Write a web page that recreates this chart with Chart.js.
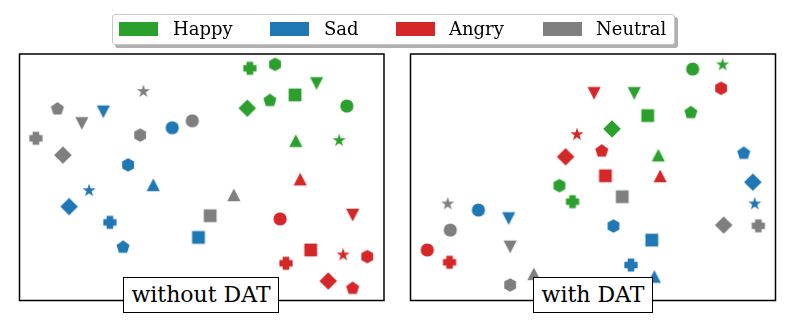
<!DOCTYPE html>
<html>
<head>
<meta charset="utf-8">
<script src="https://cdn.jsdelivr.net/npm/chart.js@4.4.1/dist/chart.umd.min.js"></script>
<style>
html,body{margin:0;padding:0;background:#fff;width:789px;height:321px;overflow:hidden;font-family:"DejaVu Serif",serif;}
#wrap{position:relative;width:789px;height:321px;}
.cv{position:absolute;top:0;}
#legend{position:absolute;left:112px;top:14px;width:561px;height:29px;border:1px solid #c8c8c8;border-radius:3px;background:#fff;box-shadow:3px 3px 0 #b0b0b0;}
.patch{position:absolute;top:21.5px;width:39px;height:14px;}
.ltext{position:absolute;top:18px;height:21px;line-height:21px;font-size:18px;color:#000;white-space:nowrap;}
.plabel{position:absolute;top:277px;height:34px;border:1.5px solid #000;background:#fff;font-size:22px;line-height:34px;text-align:center;color:#000;white-space:nowrap;}
</style>
</head>
<body>
<div id="wrap">
  <canvas id="cLeft" class="cv" style="left:0px" width="397" height="321"></canvas>
  <canvas id="cRight" class="cv" style="left:397px" width="392" height="321"></canvas>
  <div id="legend"></div>
  <div id="legendItems"></div>
  <div class="plabel" id="labL" style="left:123px;width:154px;"></div>
  <div class="plabel" id="labR" style="left:533px;width:118px;"></div>
</div>
<script>
// ---- Data (embedding coordinates, arbitrary units 0-100) ----
const emotions = ['Happy', 'Sad', 'Angry', 'Neutral'];
const shapes = ['circle', 'square', 'triUp', 'triDown', 'diamond', 'plus', 'star', 'pentagon', 'hexagon'];
const panelTitles = ['without DAT', 'with DAT'];

// without DAT
const woHappyX   = [89.8, 75.6, 75.8, 81.5, 62.5, 63.2, 87.7, 68.7, 70.1];
const woHappyY   = [78.9, 83.4, 64.8, 88.1, 78.0, 94.2, 65.1, 81.1, 95.8];
const woSadX     = [41.9, 49.1, 36.7, 23.0, 13.6, 24.8, 19.1, 28.4, 29.8];
const woSadY     = [70.1, 25.6, 46.9, 76.6, 38.1, 31.7, 44.8, 21.6, 55.0];
const woAngryX   = [71.5, 79.9, 77.0, 91.4, 84.7, 73.1, 88.8, 91.4, 95.4];
const woAngryY   = [33.1, 20.5, 49.2, 34.7, 7.9, 15.1, 18.7, 4.9, 17.8];
const woNeutralX = [47.4, 52.3, 58.8, 17.1, 11.9, 4.5, 34.0, 10.4, 33.1];
const woNeutralY = [72.9, 34.4, 42.8, 71.9, 59.0, 65.8, 85.0, 77.7, 67.1];

// with DAT
const wHappyX   = [77.3, 65.0, 67.9, 61.3, 55.2, 44.4, 85.5, 76.8, 40.8];
const wHappyY   = [93.9, 75.0, 58.9, 84.1, 69.6, 40.1, 95.8, 76.2, 46.6];
const wSadX     = [18.6, 66.1, 66.8, 26.9, 93.8, 60.4, 94.3, 91.3, 55.6];
const wSadY     = [36.7, 24.5, 9.7, 33.3, 48.0, 14.4, 39.4, 59.7, 30.2];
const wAngryX   = [4.6, 53.4, 68.4, 50.3, 42.5, 10.7, 45.6, 52.4, 85.1];
const wAngryY   = [20.5, 50.6, 50.5, 84.1, 58.3, 15.5, 67.5, 60.6, 86.1];
const wNeutralX = [10.9, 58.0, 33.8, 27.3, 85.8, 95.3, 10.2, null, 27.3];
const wNeutralY = [28.6, 42.1, 10.8, 21.8, 30.6, 30.3, 39.4, null, 6.3];

const colors = ['#2ca02c', '#1f77b4', '#d62728', '#7f7f7f'];

// ---- marker images ----
function makeMarker(shape, color) {
  const S = 22, c = S / 2;
  const cv = document.createElement('canvas');
  cv.width = S; cv.height = S;
  const g = cv.getContext('2d');
  g.fillStyle = color;
  g.beginPath();
  const poly = (n, R, rot) => {
    for (let i = 0; i < n; i++) {
      const a = rot + i * 2 * Math.PI / n;
      const px = c + R * Math.cos(a), py = c + R * Math.sin(a);
      i ? g.lineTo(px, py) : g.moveTo(px, py);
    }
    g.closePath();
  };
  switch (shape) {
    case 'circle': g.arc(c, c, 6.6, 0, Math.PI * 2); break;
    case 'square': g.rect(c - 6.4, c - 6.4, 12.8, 12.8); break;
    case 'triUp': g.moveTo(c, c - 6.5); g.lineTo(c + 6.6, c + 6.2); g.lineTo(c - 6.6, c + 6.2); g.closePath(); break;
    case 'triDown': g.moveTo(c, c + 6.5); g.lineTo(c + 6.6, c - 6.2); g.lineTo(c - 6.6, c - 6.2); g.closePath(); break;
    case 'diamond': g.moveTo(c, c - 8.8); g.lineTo(c + 8.8, c); g.lineTo(c, c + 8.8); g.lineTo(c - 8.8, c); g.closePath(); break;
    case 'plus': {
      const w = 6.6, t = 3.3;
      g.moveTo(c - w, c - t); g.lineTo(c - t, c - t); g.lineTo(c - t, c - w); g.lineTo(c + t, c - w);
      g.lineTo(c + t, c - t); g.lineTo(c + w, c - t); g.lineTo(c + w, c + t); g.lineTo(c + t, c + t);
      g.lineTo(c + t, c + w); g.lineTo(c - t, c + w); g.lineTo(c - t, c + t); g.lineTo(c - w, c + t); g.closePath();
      break;
    }
    case 'star': {
      const R = 6.9, r = R * 0.382;
      for (let i = 0; i < 10; i++) {
        const a = -Math.PI / 2 + i * Math.PI / 5, rr = i % 2 ? r : R;
        const px = c + rr * Math.cos(a), py = c + 0.5 + rr * Math.sin(a);
        i ? g.lineTo(px, py) : g.moveTo(px, py);
      }
      g.closePath();
      break;
    }
    case 'pentagon': poly(5, 6.9, -Math.PI / 2); g.translate(0, 0); break;
    case 'hexagon': poly(6, 6.8, -Math.PI / 2); break;
  }
  g.fill();
  return cv;
}
const markerCache = {};
function marker(shape, color) {
  const k = shape + color;
  if (!markerCache[k]) markerCache[k] = makeMarker(shape, color);
  return markerCache[k];
}

function buildDatasets(xs, ys) {
  const ds = [];
  emotions.forEach((em, ei) => {
    const pts = [], styles = [];
    shapes.forEach((sh, si) => {
      if (xs[ei][si] === null) return;
      pts.push({ x: xs[ei][si], y: ys[ei][si] });
      styles.push(marker(sh, colors[ei]));
    });
    ds.push({ label: em, data: pts, pointStyle: styles, pointRadius: 7, pointHoverRadius: 7, backgroundColor: colors[ei], borderColor: colors[ei] });
  });
  return ds;
}

const framePlugin = {
  id: 'frame',
  afterDraw(chart) {
    const a = chart.chartArea, g = chart.ctx;
    g.save();
    g.strokeStyle = '#000';
    g.lineWidth = 1.5;
    g.strokeRect(a.left, a.top, a.right - a.left, a.bottom - a.top);
    g.restore();
  }
};

function makeChart(id, xs, ys, padding) {
  return new Chart(document.getElementById(id), {
    type: 'scatter',
    data: { datasets: buildDatasets(xs, ys) },
    options: {
      responsive: false,
      animation: false,
      devicePixelRatio: 1,
      layout: { padding },
      plugins: { legend: { display: false }, tooltip: { enabled: false } },
      events: [],
      scales: {
        x: { display: false, min: 0, max: 100 },
        y: { display: false, min: 0, max: 100 }
      },
      clip: false
    },
    plugins: [framePlugin]
  });
}

makeChart('cLeft',
  [woHappyX, woSadX, woAngryX, woNeutralX],
  [woHappyY, woSadY, woAngryY, woNeutralY],
  { left: 19.5, top: 54, right: 13, bottom: 20.5 });
makeChart('cRight',
  [wHappyX, wSadX, wAngryX, wNeutralX],
  [wHappyY, wSadY, wAngryY, wNeutralY],
  { left: 13.5, top: 54, right: 13.5, bottom: 20.5 });

// ---- legend & panel labels (text) ----
const patchX = [119, 270, 396, 542.5];
const textX = [173, 324, 449, 596];
const li = document.getElementById('legendItems');
emotions.forEach((em, i) => {
  const p = document.createElement('div');
  p.className = 'patch'; p.style.left = patchX[i] + 'px'; p.style.background = colors[i];
  li.appendChild(p);
  const t = document.createElement('div');
  t.className = 'ltext'; t.style.left = textX[i] + 'px'; t.textContent = em;
  li.appendChild(t);
});
document.getElementById('labL').textContent = panelTitles[0];
document.getElementById('labR').textContent = panelTitles[1];
</script>
</body>
</html>
